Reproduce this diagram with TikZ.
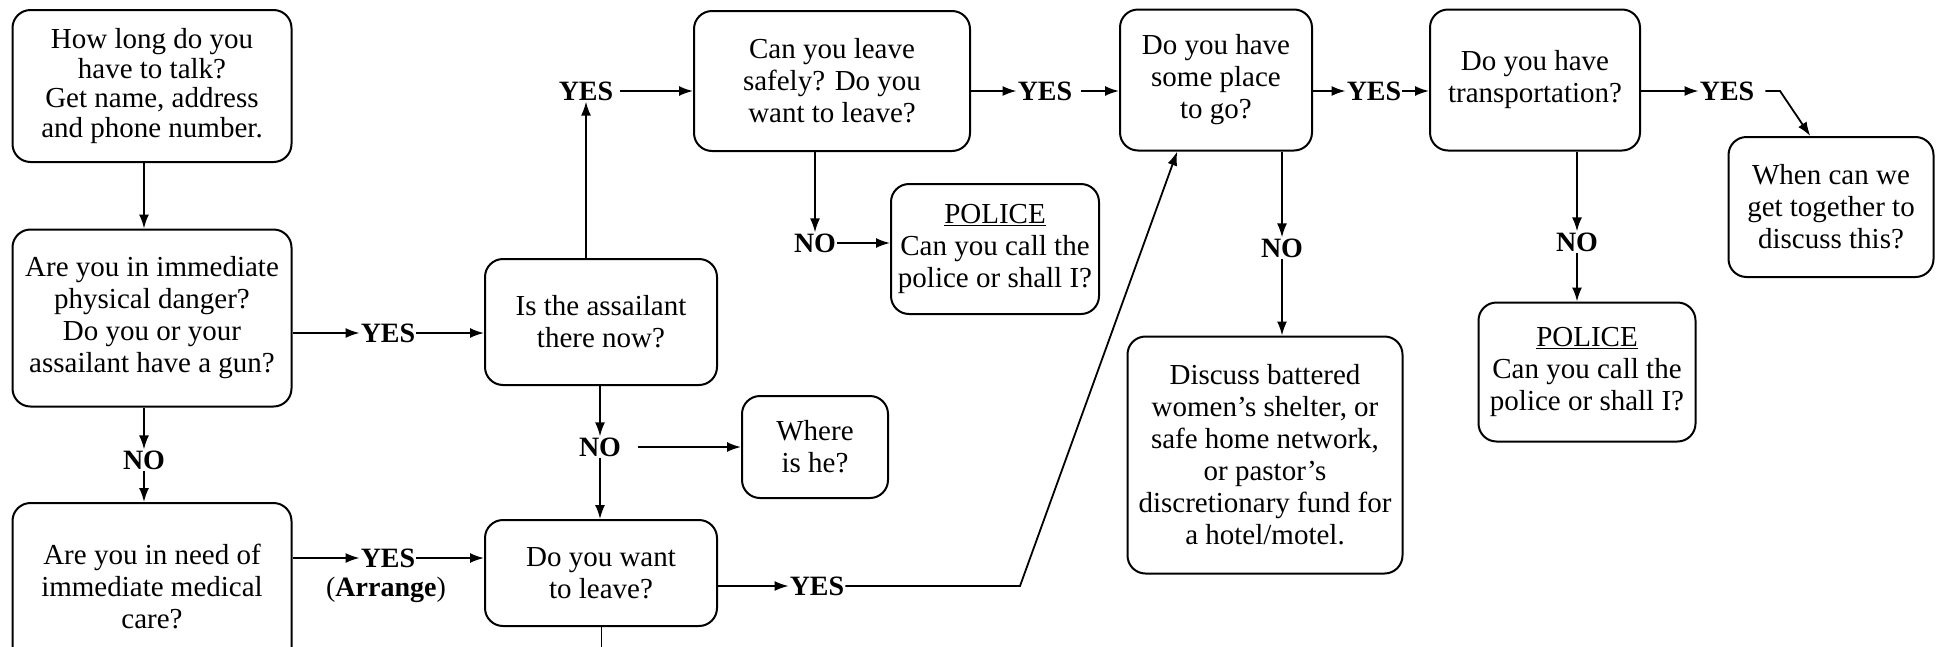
\documentclass[tikz,border=0pt]{standalone}
\usepackage{fontspec}
\setmainfont{Liberation Serif}
\usetikzlibrary{arrows.meta, positioning, calc}

\begin{document}
\begin{tikzpicture}[x=1pt, y=-1pt,
      box/.style={draw, line width=2pt, rounded corners=18pt, align=center,
                  inner sep=0pt, font=\fontsize{29}{32}\selectfont},
      lbl/.style={inner sep=1pt, font=\fontsize{28}{30}\selectfont\bfseries},
      arr/.style={-{Latex[length=14pt,width=10pt]}, line width=1.8pt}]
    \useasboundingbox (0,0) rectangle (1936,646);
    \clip (0,0) rectangle (1936,646);
    % questions
    \node[box, minimum width=279pt, minimum height=152pt, font=\fontsize{29}{29.5}\selectfont] (talk) at (152,86) {How long do you\\have to talk?\\Get name, address\\and phone number.};
    \node[box, minimum width=279pt, minimum height=177pt] (danger)  at (152,318) {Are you in immediate\\physical danger?\\Do you or your\\assailant have a gun?};
    \node[box, minimum width=279pt, minimum height=166pt] (medical) at (152,586) {Are you in need of\\immediate medical\\care?};
    \node[box, minimum width=232pt, minimum height=126pt] (there)   at (601,322) {Is the assailant\\there now?};
    \node[box, minimum width=232pt, minimum height=106pt] (want)    at (601,573) {Do you want\\to leave?};
    \node[box, minimum width=146pt, minimum height=102pt] (where)   at (815,447) {Where\\is he?};
    \node[box, minimum width=276pt, minimum height=140pt] (leave)   at (832,81)  {Can you leave\\safely? Do you\\want to leave?};
    \node[box, minimum width=208pt, minimum height=130pt] (police)  at (995,249) {\underline{POLICE}\\Can you call the\\police or shall I?};
    \node[box, minimum width=192pt, minimum height=141pt] (place)   at (1216,80) {Do you have\\some place\\to go?};
    \node[box, minimum width=275pt, minimum height=237pt] (shelter) at (1265,455) {Discuss battered\\women’s shelter, or\\safe home network,\\or pastor’s\\discretionary fund for\\a hotel/motel.};
    \node[box, minimum width=210pt, minimum height=141pt] (trans)   at (1535,80) {Do you have\\transportation?};
    \node[box, minimum width=217pt, minimum height=139pt] (police2) at (1587,372) {\underline{POLICE}\\Can you call the\\police or shall I?};
    \node[box, minimum width=205pt, minimum height=140pt] (meet)    at (1831,207) {When can we\\get together to\\discuss this?};
    % answers
    \node[lbl] (no1)  at (144,460)  {NO};
    \node[lbl] (yes1) at (388,333)  {YES};
    \node[lbl] (yes4) at (388,558)  {YES};
    \node[lbl, font=\fontsize{28}{30}\selectfont] (arrange) at (386,590) {(\textbf{Arrange})};
    \node[lbl] (yes2) at (586,91)   {YES};
    \node[lbl] (no3)  at (600,447)  {NO};
    \node[lbl] (yes5) at (817,586)  {YES};
    \node[lbl] (no2)  at (815,243)  {NO};
    \node[lbl] (yes3) at (1045,91)  {YES};
    \node[lbl] (yes6) at (1374,91)  {YES};
    \node[lbl] (no4)  at (1282,248) {NO};
    \node[lbl] (no5)  at (1577,242) {NO};
    \node[lbl] (yes7) at (1727,91)  {YES};
    \coordinate (kink) at (1020,586);
    \coordinate (turn) at (1780,91);
    \coordinate (off)  at (601,660);
    % left column
    \draw[arr] (talk.south -| no1) -- (danger.north -| no1);
    \draw[arr] (danger.south -| no1) -- (no1.north);
    \draw[arr] (no1.south) -- (medical.north -| no1);
    \draw[arr] (danger.east |- yes1) -- (yes1.west);
    \draw[arr] (yes1.east) -- (there.west |- yes1);
    \draw[arr] (medical.east |- yes4) -- (yes4.west);
    \draw[arr] (yes4.east) -- (want.west |- yes4);
    % assailant
    \draw[arr] (there.north -| yes2) -- (yes2.south);
    \draw[arr] ([xshift=6pt]yes2.east) -- (leave.west |- yes2);
    \draw[arr] (there.south -| no3) -- (no3.north);
    \draw[arr] ([xshift=16pt]no3.east) -- (where.west |- no3);
    \draw[arr] (no3.south) -- (want.north -| no3);
    \draw (want.south) -- (off);
    \draw[arr] (want.east |- yes5) -- (yes5.west);
    \draw[arr] (yes5.east) -- (kink) -- ($(place.south west)!0.3!(place.south east)$);
    % leaving
    \draw[arr] (leave.south -| no2) -- (no2.north);
    \draw[arr] (no2.east) -- (police.west |- no2);
    \draw[arr] (leave.east |- yes3) -- (yes3.west);
    \draw[arr] ([xshift=8pt]yes3.east) -- (place.west |- yes3);
    \draw[arr] (place.south -| no4) -- (no4.north);
    \draw[arr] (no4.south) -- (shelter.north -| no4);
    \draw[arr] (place.east |- yes6) -- (yes6.west);
    \draw[arr] (yes6.east) -- (trans.west |- yes6);
    \draw[arr] (trans.south -| no5) -- (no5.north);
    \draw[arr] (no5.south) -- (police2.north -| no5);
    \draw[arr] (trans.east |- yes7) -- (yes7.west);
    \draw[arr] ([xshift=10pt]yes7.east) -- (turn) -- ($(meet.north west)!0.4!(meet.north east)$);
  \end{tikzpicture}
\end{document}
